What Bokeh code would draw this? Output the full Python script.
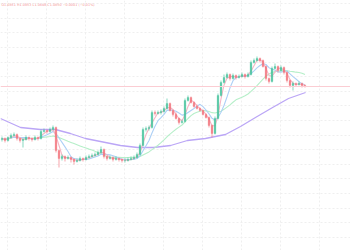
import pandas as pd
from bokeh.plotting import figure
from bokeh.models import Range1d, FixedTicker, Span, ColumnDataSource
from bokeh.core.properties import value
from bokeh.embed import file_html
from bokeh.resources import INLINE

# ---- candle data (price units) ----
opens = [111, 112, 110, 113, 115, 116, 112, 110, 111, 113, 112, 111, 113, 112, 119, 120, 119, 121, 123, 100,
         92, 94, 92, 93, 91, 89, 90, 92, 91, 93, 94, 95, 96, 98, 101, 94, 92, 93, 91, 92,
         91, 90, 90, 91, 92, 93, 96, 105, 121, 122, 123, 138, 137, 138, 139, 142, 147, 140, 136, 132,
         128, 129, 150, 153, 148, 144, 142, 140, 136, 133, 125, 117, 132, 155, 168, 173, 176, 172, 175, 173,
         174, 176, 174, 176, 188, 190, 192, 190, 184, 172, 169, 182, 184, 180, 183, 178, 170, 165, 167, 166,
         167, 165]
highs = [114, 113, 114, 117, 118, 117, 113, 112, 115, 114, 113, 115, 114, 121, 122, 121, 123, 125, 124, 101,
         96, 95, 95, 94, 92, 92, 94, 93, 95, 96, 97, 98, 100, 104, 102, 95, 95, 94, 94, 93,
         92, 92, 93, 94, 95, 98, 107, 123, 124, 125, 140, 140, 140, 141, 144, 152, 148, 141, 138, 133,
         131, 152, 155, 154, 149, 146, 143, 141, 137, 134, 126, 134, 157, 170, 176, 178, 177, 177, 176, 176,
         178, 177, 178, 190, 192, 194, 193, 191, 185, 173, 184, 187, 185, 185, 184, 179, 171, 169, 168, 169,
         168, 166]
lows = [109, 108, 109, 112, 114, 110, 108, 103, 110, 110, 109, 110, 110, 111, 118, 117, 118, 120, 98, 83,
        90, 89, 91, 88, 86, 88, 89, 89, 90, 92, 93, 94, 95, 97, 92, 90, 91, 89, 90, 89,
        88, 88, 89, 90, 91, 92, 95, 104, 119, 120, 122, 135, 136, 136, 138, 141, 139, 134, 131, 126,
        127, 128, 149, 147, 143, 141, 139, 135, 132, 123, 113, 116, 131, 154, 167, 172, 170, 171, 171, 172,
        173, 172, 173, 175, 187, 189, 188, 183, 170, 167, 168, 181, 178, 179, 176, 168, 163, 160, 164, 165,
        163, 163]
closes = [112, 110, 113, 115, 116, 112, 110, 111, 113, 112, 111, 113, 112, 119, 120, 119, 121, 123, 100, 92,
          94, 92, 93, 91, 89, 90, 92, 91, 93, 94, 95, 96, 98, 101, 94, 92, 93, 91, 92, 91,
          90, 90, 91, 92, 93, 96, 105, 121, 122, 123, 138, 137, 138, 139, 142, 147, 140, 136, 132, 128,
          129, 150, 153, 148, 144, 142, 140, 136, 133, 125, 117, 132, 155, 168, 173, 176, 172, 175, 173, 174,
          176, 174, 176, 188, 190, 192, 190, 184, 172, 169, 182, 184, 180, 183, 178, 170, 165, 167, 166, 167,
          165, 164]

# long moving average, read at points along the chart (candle index, price)
ma_long_idx = [-0.5, 6.2, 12.8, 17.8, 22.8, 27.8, 34.5, 39.5, 45.2, 50.5, 56.2, 61.8, 67.8, 74.5, 79.5, 84.5, 90.2, 95.5, 101.2]
ma_long_val = [132, 123, 121, 121, 117, 112, 108, 105, 103, 103, 105, 110, 112, 116, 124, 133, 143, 152, 158]

last_price = closes[-1]
header_text = "O1.0851 H1.0853 L1.0849 C1.0850 \u22120.0001 (\u22120.01%)"

# ---- build ----
n = len(closes)
idx = list(range(n))
df = pd.DataFrame(dict(i=idx, o=opens, h=highs, l=lows, c=closes))
df["top"] = df[["o", "c"]].max(axis=1)
df["bot"] = df[["o", "c"]].min(axis=1)
df["color"] = ["#46c39c" if c >= o else "#f2737c" for o, c in zip(opens, closes)]
df["ma_fast"] = df["c"].rolling(3, min_periods=1).mean()
df["ma_mid"] = df["c"].rolling(6, min_periods=1).mean()
df["ma_slow"] = df["c"].rolling(18, min_periods=1).mean()
src = ColumnDataSource(df)

p = figure(width=350, height=250, output_backend="svg", toolbar_location=None,
           x_range=Range1d(-0.5, 116.17), y_range=Range1d(0, 250),
           min_border=0, min_border_left=0, min_border_right=0,
           min_border_top=0, min_border_bottom=0)
p.outline_line_color = None
p.background_fill_color = "white"
p.axis.visible = False
p.xgrid.ticker = FixedTicker(ticks=[1.83 + 13 * k for k in range(9)])
p.ygrid.ticker = FixedTicker(ticks=[13.2 + 14.6 * k for k in range(17)])
for g in (p.xgrid, p.ygrid):
    g.grid_line_color = "#efefef"
    g.grid_line_dash = "2 2"
    g.grid_line_width = 1

p.add_layout(Span(location=last_price, dimension="width", line_color="#fbcdd3", line_width=1))

p.line(ma_long_idx, ma_long_val, line_color="#bba6f6", line_width=1.3)
p.line("i", "ma_slow", source=src, line_color="#b6efc9", line_width=1.1)
p.line("i", "ma_mid", source=src, line_color="#add0f6", line_width=1.1)
p.line("i", "ma_fast", source=src, line_color="#f6b6c6", line_width=1.1)

p.segment("i", "h", "i", "l", source=src, line_color="color", line_width=0.8, line_alpha=0.8)
p.vbar(x="i", top="top", bottom="bot", width=0.62, source=src,
       fill_color="color", line_color="color", line_width=0.3, fill_alpha=0.8, line_alpha=0.8)

p.text(x=[-0.2], y=[246], text=[header_text], text_font=value("DejaVu Sans"),
       text_font_size="3.4px", text_color="#f27e7e", text_baseline="middle", text_alpha=0.9)

open("out.html", "w").write(file_html(p, INLINE))
